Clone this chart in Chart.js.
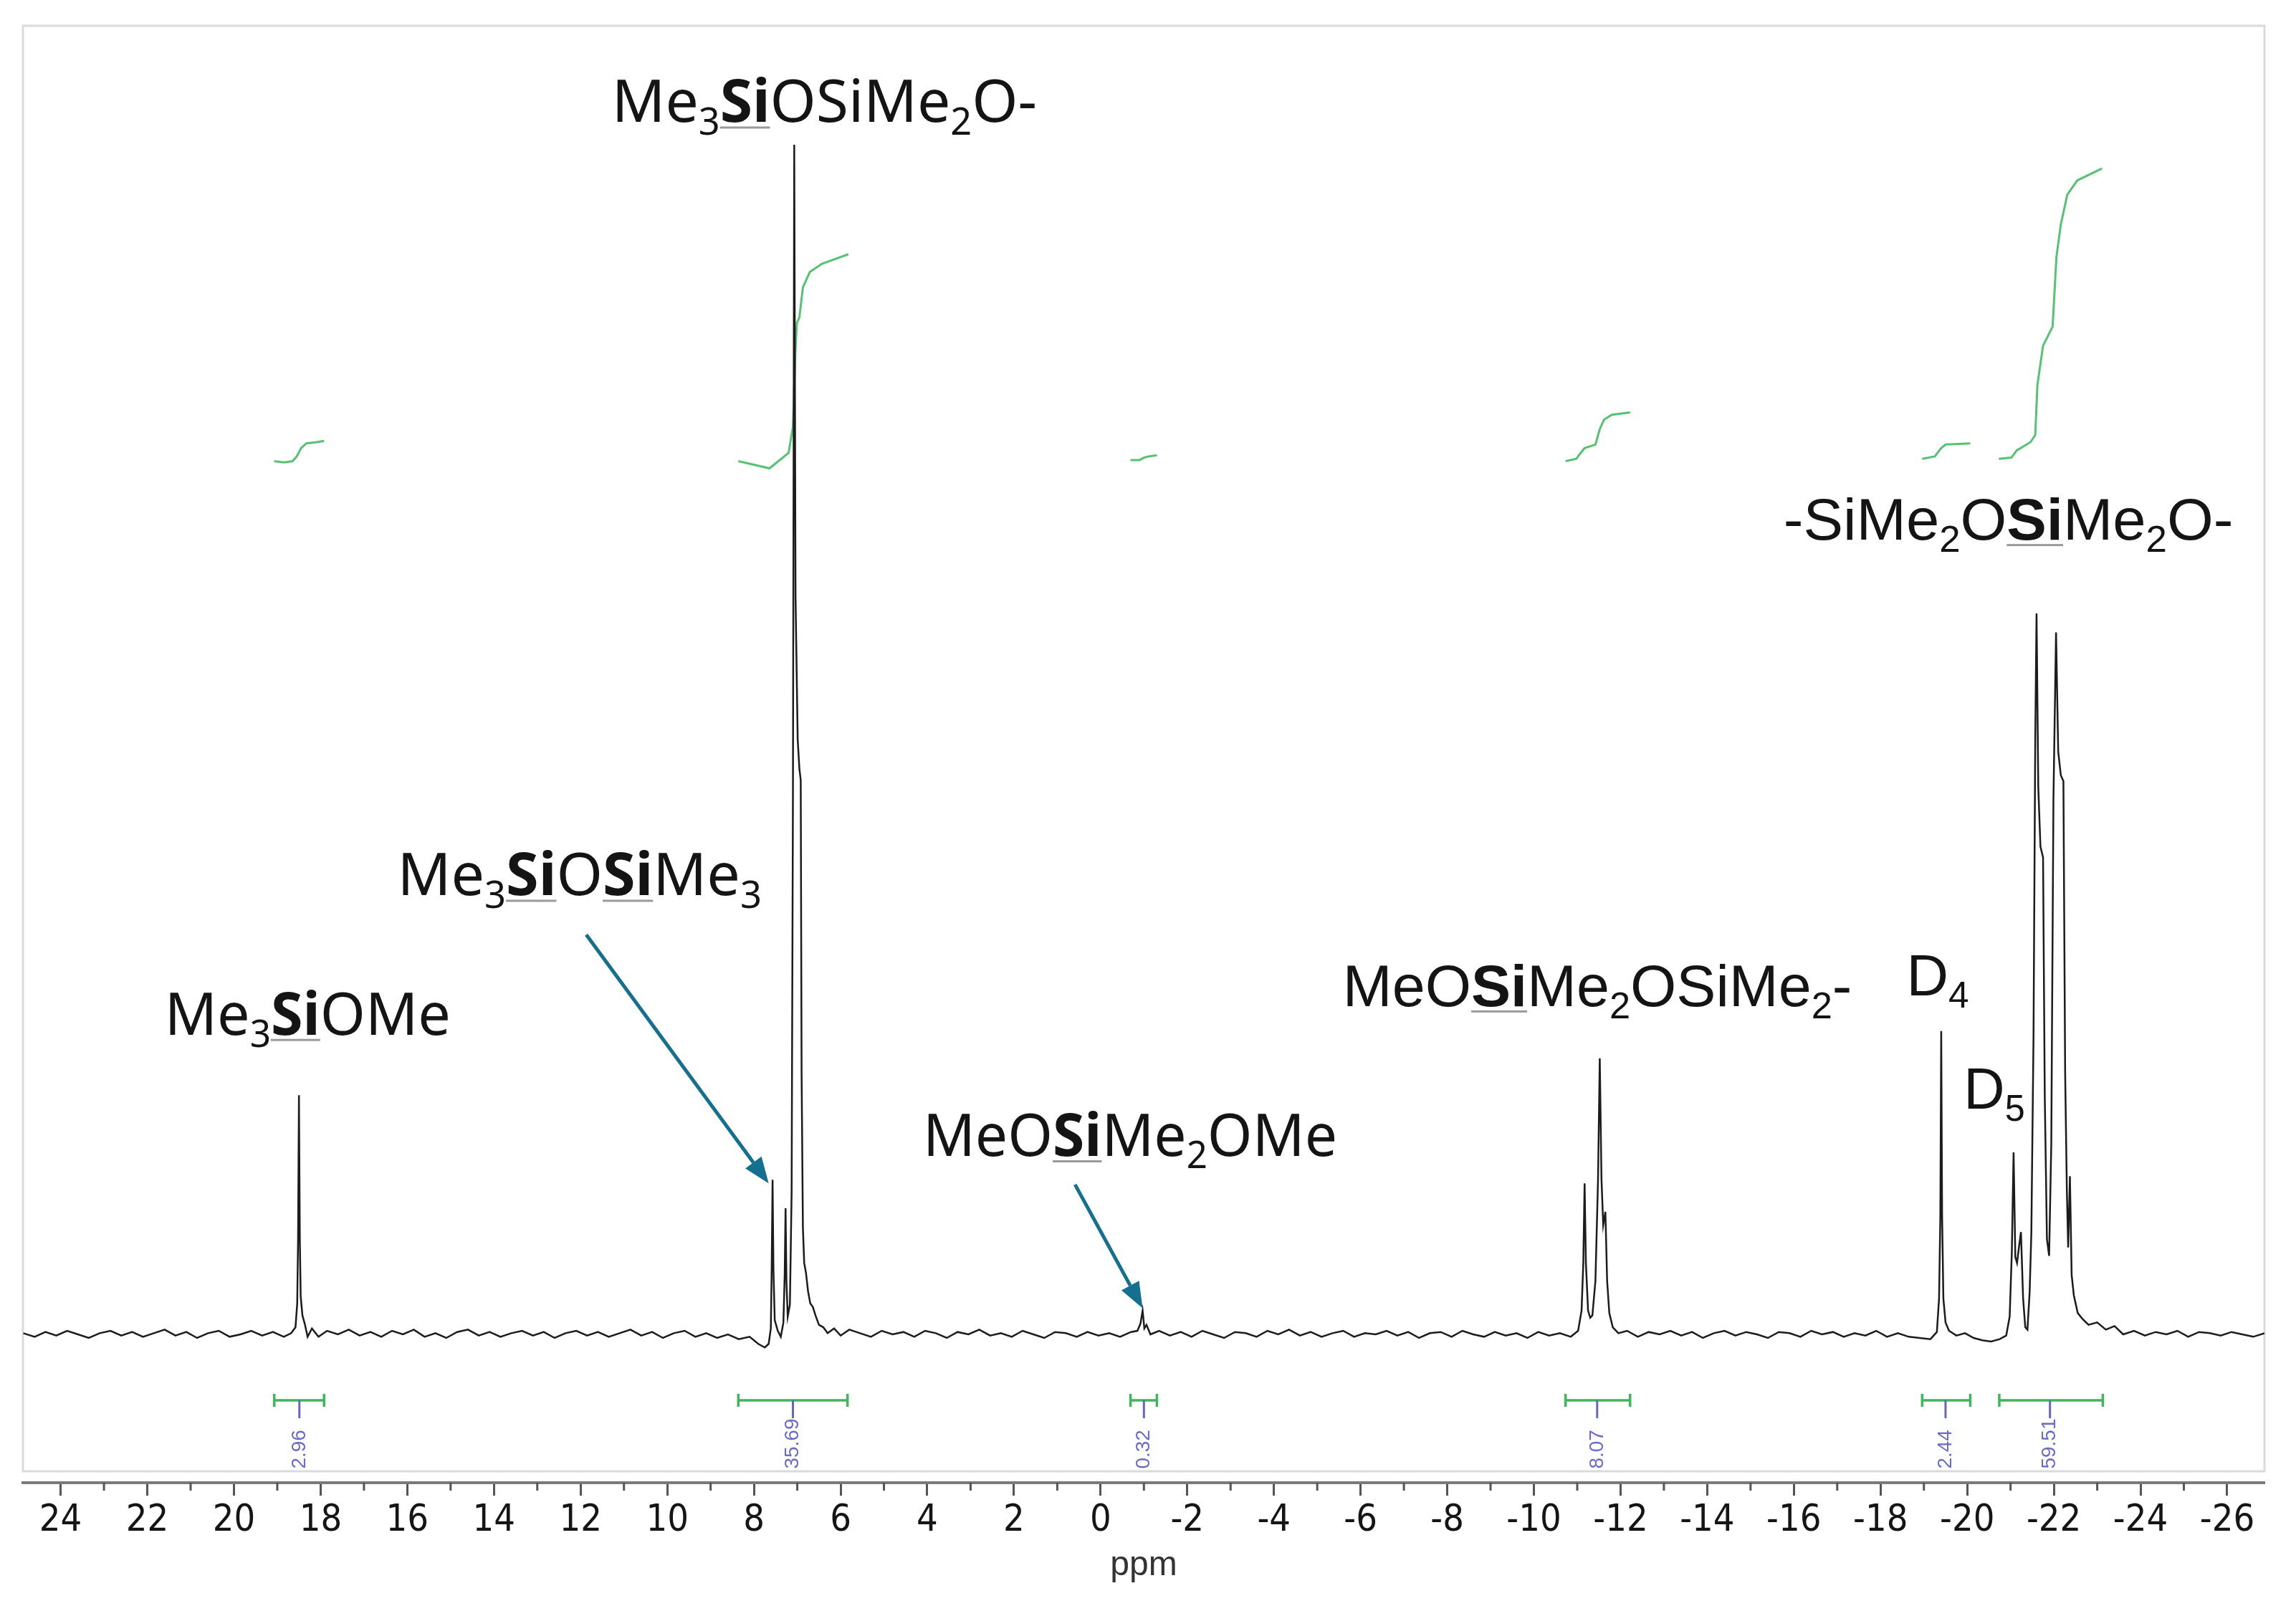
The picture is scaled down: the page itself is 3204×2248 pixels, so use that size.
<!DOCTYPE html>
<html>
<head>
<meta charset="utf-8">
<title>29Si NMR</title>
<script src="https://cdn.jsdelivr.net/npm/chart.js@4.4.1/dist/chart.umd.min.js"></script>
<style>
  html, body { margin: 0; padding: 0; background: #fff; }
  canvas { display: block; }
</style>
</head>
<body>
<canvas id="nmr" width="3204" height="2248" style="width:3204px;height:2248px"></canvas>
<script>
// spectrum (ppm, intensity; main peak = 100)
var specPpm = [24.86, 24.6, 24.35, 24.1, 23.85, 23.6, 23.35, 23.1, 22.85, 22.6, 22.35, 22.1, 21.85, 21.6, 21.35, 21.1, 20.85, 20.6, 20.35, 20.1,
  19.85, 19.6, 19.35, 19.1, 18.85, 18.68, 18.58, 18.54, 18.52, 18.5, 18.48, 18.46, 18.42, 18.36, 18.3, 18.2, 18.05, 17.85, 17.6, 17.35,
  17.1, 16.85, 16.6, 16.35, 16.1, 15.85, 15.6, 15.35, 15.1, 14.85, 14.6, 14.35, 14.1, 13.85, 13.6, 13.35, 13.1, 12.85, 12.6, 12.35,
  12.1, 11.85, 11.6, 11.35, 11.1, 10.85, 10.6, 10.35, 10.1, 9.85, 9.6, 9.35, 9.1, 8.85, 8.6, 8.35, 8.1, 7.9, 7.75, 7.66,
  7.61, 7.59, 7.57, 7.55, 7.52, 7.45, 7.38, 7.32, 7.29, 7.27, 7.25, 7.22, 7.17, 7.13, 7.1, 7.07, 7.04, 6.99, 6.95, 6.92,
  6.9, 6.87, 6.84, 6.8, 6.75, 6.7, 6.64, 6.58, 6.5, 6.4, 6.3, 6.15, 6.0, 5.8, 5.55, 5.3, 5.05, 4.8, 4.55, 4.3,
  4.05, 3.8, 3.55, 3.3, 3.05, 2.8, 2.55, 2.3, 2.05, 1.8, 1.55, 1.3, 1.05, 0.8, 0.55, 0.3, 0.05, -0.2, -0.45, -0.7,
  -0.85, -0.92, -0.97, -1.01, -1.06, -1.15, -1.35, -1.6, -1.85, -2.1, -2.35, -2.6, -2.85, -3.1, -3.35, -3.6, -3.85, -4.1, -4.35, -4.6,
  -4.85, -5.1, -5.35, -5.6, -5.85, -6.1, -6.35, -6.6, -6.85, -7.1, -7.35, -7.6, -7.85, -8.1, -8.35, -8.6, -8.85, -9.1, -9.35, -9.6,
  -9.85, -10.1, -10.35, -10.6, -10.85, -11.02, -11.1, -11.14, -11.17, -11.2, -11.25, -11.3, -11.35, -11.42, -11.48, -11.52, -11.56, -11.6, -11.65, -11.69,
  -11.74, -11.82, -11.95, -12.15, -12.4, -12.65, -12.9, -13.15, -13.4, -13.65, -13.9, -14.15, -14.4, -14.65, -14.9, -15.15, -15.4, -15.65, -15.9, -16.15,
  -16.4, -16.65, -16.9, -17.15, -17.4, -17.65, -17.9, -18.15, -18.4, -18.65, -18.9, -19.15, -19.3, -19.35, -19.38, -19.4, -19.42, -19.45, -19.5, -19.58,
  -19.75, -19.95, -20.15, -20.35, -20.55, -20.75, -20.9, -20.98, -21.03, -21.07, -21.11, -21.15, -21.2, -21.24, -21.29, -21.34, -21.39, -21.44, -21.48, -21.53,
  -21.57, -21.6, -21.64, -21.69, -21.75, -21.79, -21.84, -21.89, -21.94, -21.99, -22.05, -22.1, -22.16, -22.22, -22.26, -22.3, -22.33, -22.37, -22.41, -22.46,
  -22.55, -22.66, -22.8, -23.0, -23.2, -23.4, -23.6, -23.85, -24.1, -24.35, -24.6, -24.85, -25.1, -25.35, -25.6, -25.85, -26.1, -26.35, -26.6, -26.86];
var specInt = [0.1, -0.2, 0.2, -0.1, 0.3, 0.0, -0.3, 0.1, 0.3, -0.1, 0.2, -0.2, 0.1, 0.4, -0.1, 0.2, -0.3, 0.1, 0.3, -0.2,
  0.0, 0.3, -0.1, 0.2, -0.2, 0.1, 0.6, 2.6, 8.0, 20.1, 8.0, 3.2, 1.6, 0.8, -0.2, 0.5, -0.2, 0.3, 0.0, 0.4,
  -0.1, 0.2, -0.2, 0.3, 0.0, 0.4, -0.2, 0.1, -0.3, 0.2, 0.4, -0.1, 0.2, -0.2, 0.1, 0.3, -0.1, 0.2, -0.3, 0.1,
  0.3, -0.1, 0.2, -0.2, 0.1, 0.4, -0.1, 0.2, -0.3, 0.1, 0.3, -0.2, 0.1, -0.3, 0.0, -0.4, -0.2, -0.8, -1.1, -0.8,
  0.5, 5.5, 13.0, 5.5, 1.2, 0.3, -0.2, 1.0, 5.0, 10.6, 4.5, 1.5, 2.5, 12.0, 45.0, 100.0, 62.0, 50.0, 47.5, 46.6,
  22.0, 9.0, 6.0, 5.2, 3.6, 2.6, 2.3, 1.6, 0.8, 0.6, 0.1, 0.5, -0.1, 0.4, 0.1, -0.2, 0.3, 0.0, 0.2, -0.2,
  0.3, 0.1, -0.3, 0.2, 0.0, 0.4, -0.1, 0.1, -0.2, 0.3, 0.0, -0.3, 0.2, 0.1, -0.2, 0.2, -0.1, 0.1, -0.2, 0.2,
  0.3, 0.9, 2.0, 0.5, 0.8, 0.0, 0.3, -0.1, 0.2, -0.2, 0.3, 0.0, -0.3, 0.2, 0.1, -0.2, 0.3, 0.0, 0.4, -0.1,
  0.2, -0.2, 0.1, 0.3, -0.2, 0.1, 0.0, 0.3, -0.1, 0.2, -0.3, 0.1, 0.2, -0.2, 0.3, 0.0, -0.2, 0.2, -0.1, 0.1,
  -0.3, 0.2, -0.1, 0.1, -0.2, 0.3, 2.0, 6.0, 12.7, 6.0, 2.0, 1.4, 1.6, 4.5, 13.0, 23.2, 13.0, 9.2, 10.3, 4.5,
  1.8, 0.6, 0.1, 0.3, -0.2, 0.2, 0.0, 0.3, -0.1, 0.2, -0.3, 0.1, 0.3, -0.1, 0.2, 0.0, -0.3, 0.2, 0.1, -0.2,
  0.3, 0.0, 0.2, -0.2, 0.1, -0.1, 0.3, -0.2, 0.1, -0.2, -0.3, -0.4, 0.2, 3.0, 10.0, 25.5, 10.0, 3.0, 1.0, 0.3,
  -0.1, 0.1, -0.3, -0.5, -0.6, -0.4, -0.1, 1.5, 7.0, 15.3, 6.5, 6.0, 7.5, 8.6, 3.0, 0.6, 0.4, 3.5, 8.5, 25.0,
  50.0, 60.6, 46.0, 41.0, 40.1, 20.0, 8.0, 6.6, 16.0, 45.0, 59.0, 49.0, 47.0, 46.5, 22.0, 12.0, 7.3, 13.3, 5.0, 3.3,
  1.8, 1.3, 0.8, 1.0, 0.4, 0.7, 0.0, 0.3, -0.1, 0.2, 0.0, 0.3, -0.2, 0.2, 0.1, -0.1, 0.2, 0.0, -0.2, 0.1];

// integral curves (same intensity axis)
var integralPpm = [
  [19.07, 18.85, 18.65, 18.55, 18.45, 18.33, 18.1, 17.92],
  [8.36, 7.64, 7.2, 7.1, 7.04, 7.01, 6.95, 6.87, 6.71, 6.43, 5.82],
  [-0.69, -0.9, -1.0, -1.1, -1.3],
  [-10.73, -10.98, -11.08, -11.17, -11.42, -11.52, -11.62, -11.8, -12.22],
  [-18.96, -19.25, -19.4, -19.5, -20.07],
  [-20.73, -21.02, -21.14, -21.46, -21.57, -21.62, -21.75, -21.97, -22.06, -22.16, -22.31, -22.54, -23.11]
];
var integralVal = [
  [73.4, 73.3, 73.4, 73.8, 74.5, 74.9, 75.0, 75.1],
  [73.4, 72.8, 74.1, 76.3, 82.9, 85.0, 85.5, 88.0, 89.3, 90.0, 90.8],
  [73.5, 73.5, 73.7, 73.8, 73.9],
  [73.4, 73.6, 74.1, 74.5, 74.8, 76.1, 76.9, 77.3, 77.5],
  [73.6, 73.8, 74.5, 74.8, 74.9],
  [73.6, 73.7, 74.3, 75.0, 75.6, 79.8, 83.1, 84.7, 90.6, 93.3, 95.8, 97.0, 98.0]
];

// integration ranges and values
var rangeFrom = [19.07, 8.36, -0.69, -10.73, -18.96, -20.74];
var rangeTo = [17.92, 5.84, -1.3, -12.22, -20.07, -23.13];
var rangeMid = [18.49, 7.1, -1.0, -11.46, -19.5, -21.91];
var rangeLabels = ['2.96', '35.69', '0.32', '8.07', '2.44', '59.51'];

// axis
var ppmMin = -26.86, ppmMax = 24.87;
var intMin = -12.47, intMax = 110;

// annotations: _x = subscript, [..] = bold + underlined
var labels = [
  { text: 'Me_3[Si]OSiMe_2O-', from: 11.28, to: 1.47, base: 101.9, family: 'Noto Sans' },
  { text: 'Me_3[Si]O[Si]Me_3', from: 16.23, to: 7.82, base: 36.9, family: 'Noto Sans' },
  { text: 'Me_3[Si]OMe', from: 21.6, to: 15.0, base: 25.2, family: 'Noto Sans' },
  { text: 'MeO[Si]Me_2OMe', from: 4.1, to: -5.46, base: 15.0, family: 'Noto Sans' },
  { text: 'MeO[Si]Me_2OSiMe_2-', from: -5.59, to: -17.34, base: 27.6, family: 'Liberation Sans' },
  { text: 'D_4', from: -18.6, to: -20.04, base: 28.5, family: 'Liberation Sans' },
  { text: 'D_5', from: -19.92, to: -21.33, base: 19.0, family: 'Liberation Sans' },
  { text: '-SiMe_2O[Si]Me_2O-', from: -15.76, to: -26.14, base: 66.8, family: 'Liberation Sans' }
];
var arrows = [
  { from: [11.87, 33.6], to: [7.66, 12.7] },
  { from: [0.59, 12.6], to: [-0.97, 2.2] }
];

function toXY(xs, ys) {
  return xs.map(function (x, i) { return { x: x, y: ys[i] }; });
}

function parseRich(s) {
  var parts = [], buf = '', i = 0;
  function flush() { if (buf) { parts.push({ t: buf, k: 'n' }); buf = ''; } }
  while (i < s.length) {
    var c = s[i];
    if (c === '_') { flush(); parts.push({ t: s[i + 1], k: 'sub' }); i += 2; }
    else if (c === '[') { flush(); var j = s.indexOf(']', i); parts.push({ t: s.slice(i + 1, j), k: 'b' }); i = j + 1; }
    else { buf += c; i++; }
  }
  flush();
  return parts;
}

function drawRich(ctx, lab, xs, ys) {
  var size = 82;
  var x0 = xs.getPixelForValue(lab.from), x1 = xs.getPixelForValue(lab.to);
  var y = ys.getPixelForValue(lab.base);
  var parts = parseRich(lab.text);
  function fontOf(p) {
    return (p.k === 'b' ? 'bold ' : '') + (p.k === 'sub' ? Math.round(size * 0.63) : size) + 'px "' + lab.family + '", sans-serif';
  }
  var total = 0;
  parts.forEach(function (p) { ctx.font = fontOf(p); p.w = ctx.measureText(p.t).width; total += p.w; });
  ctx.save();
  ctx.translate(x0, y);
  ctx.scale((x1 - x0) / total, 1);
  ctx.textAlign = 'left';
  ctx.textBaseline = 'alphabetic';
  var cx = 0;
  parts.forEach(function (p) {
    ctx.font = fontOf(p);
    ctx.fillStyle = '#141414';
    ctx.fillText(p.t, cx, p.k === 'sub' ? size * 0.21 : 0);
    if (p.k === 'b') {
      ctx.fillStyle = '#9a9a9a';
      ctx.fillRect(cx, 6, p.w, 3);
    }
    cx += p.w;
  });
  ctx.restore();
}

var decor = {
  id: 'decor',
  beforeDatasetsDraw: function (chart) {
    var a = chart.chartArea, ctx = chart.ctx;
    ctx.save();
    ctx.strokeStyle = '#dadada';
    ctx.lineWidth = 3;
    ctx.strokeRect(a.left, a.top, a.right - a.left, a.bottom - 16 - a.top);
    ctx.restore();
  },
  afterDraw: function (chart) {
    var ctx = chart.ctx, xs = chart.scales.x, ys = chart.scales.y, a = chart.chartArea;
    ctx.save();
    // minor ticks
    ctx.strokeStyle = '#555';
    ctx.lineWidth = 3;
    for (var v = -25; v <= 23; v += 2) {
      var px = xs.getPixelForValue(v);
      ctx.beginPath(); ctx.moveTo(px, a.bottom); ctx.lineTo(px, a.bottom + 11); ctx.stroke();
    }
    // integration brackets
    var by = ys.getPixelForValue(-5.54);
    var ty = ys.getPixelForValue(-11.3);
    rangeFrom.forEach(function (f, i) {
      var p0 = xs.getPixelForValue(f), p1 = xs.getPixelForValue(rangeTo[i]), pm = xs.getPixelForValue(rangeMid[i]);
      ctx.strokeStyle = '#3fb65c';
      ctx.lineWidth = 3.5;
      ctx.beginPath();
      ctx.moveTo(p0, by); ctx.lineTo(p1, by);
      ctx.moveTo(p0, by - 9); ctx.lineTo(p0, by + 9);
      ctx.moveTo(p1, by - 9); ctx.lineTo(p1, by + 9);
      ctx.stroke();
      ctx.strokeStyle = '#6565c4';
      ctx.lineWidth = 3;
      ctx.beginPath(); ctx.moveTo(pm, by); ctx.lineTo(pm, by + 25); ctx.stroke();
      ctx.save();
      ctx.translate(pm, ty);
      ctx.rotate(-Math.PI / 2);
      ctx.fillStyle = '#6a6ac8';
      ctx.font = '28px "Liberation Sans", sans-serif';
      ctx.textAlign = 'left';
      ctx.textBaseline = 'middle';
      ctx.fillText(rangeLabels[i], 0, 0);
      ctx.restore();
    });
    // labels
    labels.forEach(function (lab) { drawRich(ctx, lab, xs, ys); });
    // arrows
    arrows.forEach(function (ar) {
      var x0 = xs.getPixelForValue(ar.from[0]), y0 = ys.getPixelForValue(ar.from[1]);
      var x1 = xs.getPixelForValue(ar.to[0]), y1 = ys.getPixelForValue(ar.to[1]);
      var ang = Math.atan2(y1 - y0, x1 - x0), hl = 36, hw = 14;
      var bx = x1 - hl * Math.cos(ang), byy = y1 - hl * Math.sin(ang);
      ctx.strokeStyle = '#15708f';
      ctx.fillStyle = '#15708f';
      ctx.lineWidth = 5;
      ctx.beginPath(); ctx.moveTo(x0, y0); ctx.lineTo(bx, byy); ctx.stroke();
      ctx.beginPath();
      ctx.moveTo(x1, y1);
      ctx.lineTo(bx + hw * Math.sin(ang), byy - hw * Math.cos(ang));
      ctx.lineTo(bx - hw * Math.sin(ang), byy + hw * Math.cos(ang));
      ctx.closePath();
      ctx.fill();
    });
    ctx.restore();
  }
};

var datasets = [{
  data: toXY(specPpm, specInt),
  showLine: true,
  borderColor: '#1c1c1c',
  borderWidth: 2.5,
  pointRadius: 0
}];
integralPpm.forEach(function (xsArr, i) {
  datasets.push({
    data: toXY(xsArr, integralVal[i]),
    showLine: true,
    borderColor: '#55c274',
    borderWidth: 3,
    pointRadius: 0
  });
});

new Chart(document.getElementById('nmr'), {
  type: 'scatter',
  data: { datasets: datasets },
  options: {
    responsive: false,
    animation: false,
    layout: { padding: { left: 32, right: 44, top: 36, bottom: 0 } },
    plugins: { legend: { display: false }, tooltip: { enabled: false } },
    scales: {
      x: {
        type: 'linear',
        reverse: true,
        min: ppmMin,
        max: ppmMax,
        afterFit: function (s) { s.height = 179; },
        ticks: {
          stepSize: 2,
          includeBounds: false,
          autoSkip: false,
          maxRotation: 0,
          padding: 4,
          color: '#151515',
          font: { family: '"DejaVu Sans Condensed", "DejaVu Sans", sans-serif', size: 52 }
        },
        grid: { display: true, drawOnChartArea: false, drawTicks: true, tickLength: 18, tickColor: '#555', tickWidth: 3 },
        border: { display: true, color: '#7a7a7a', width: 4 },
        title: {
          display: true,
          text: 'ppm',
          color: '#333',
          font: { family: '"Liberation Sans", sans-serif', size: 48 },
          padding: { top: 0, bottom: 34 }
        }
      },
      y: { display: false, min: intMin, max: intMax }
    }
  },
  plugins: [decor]
});
</script>
</body>
</html>
